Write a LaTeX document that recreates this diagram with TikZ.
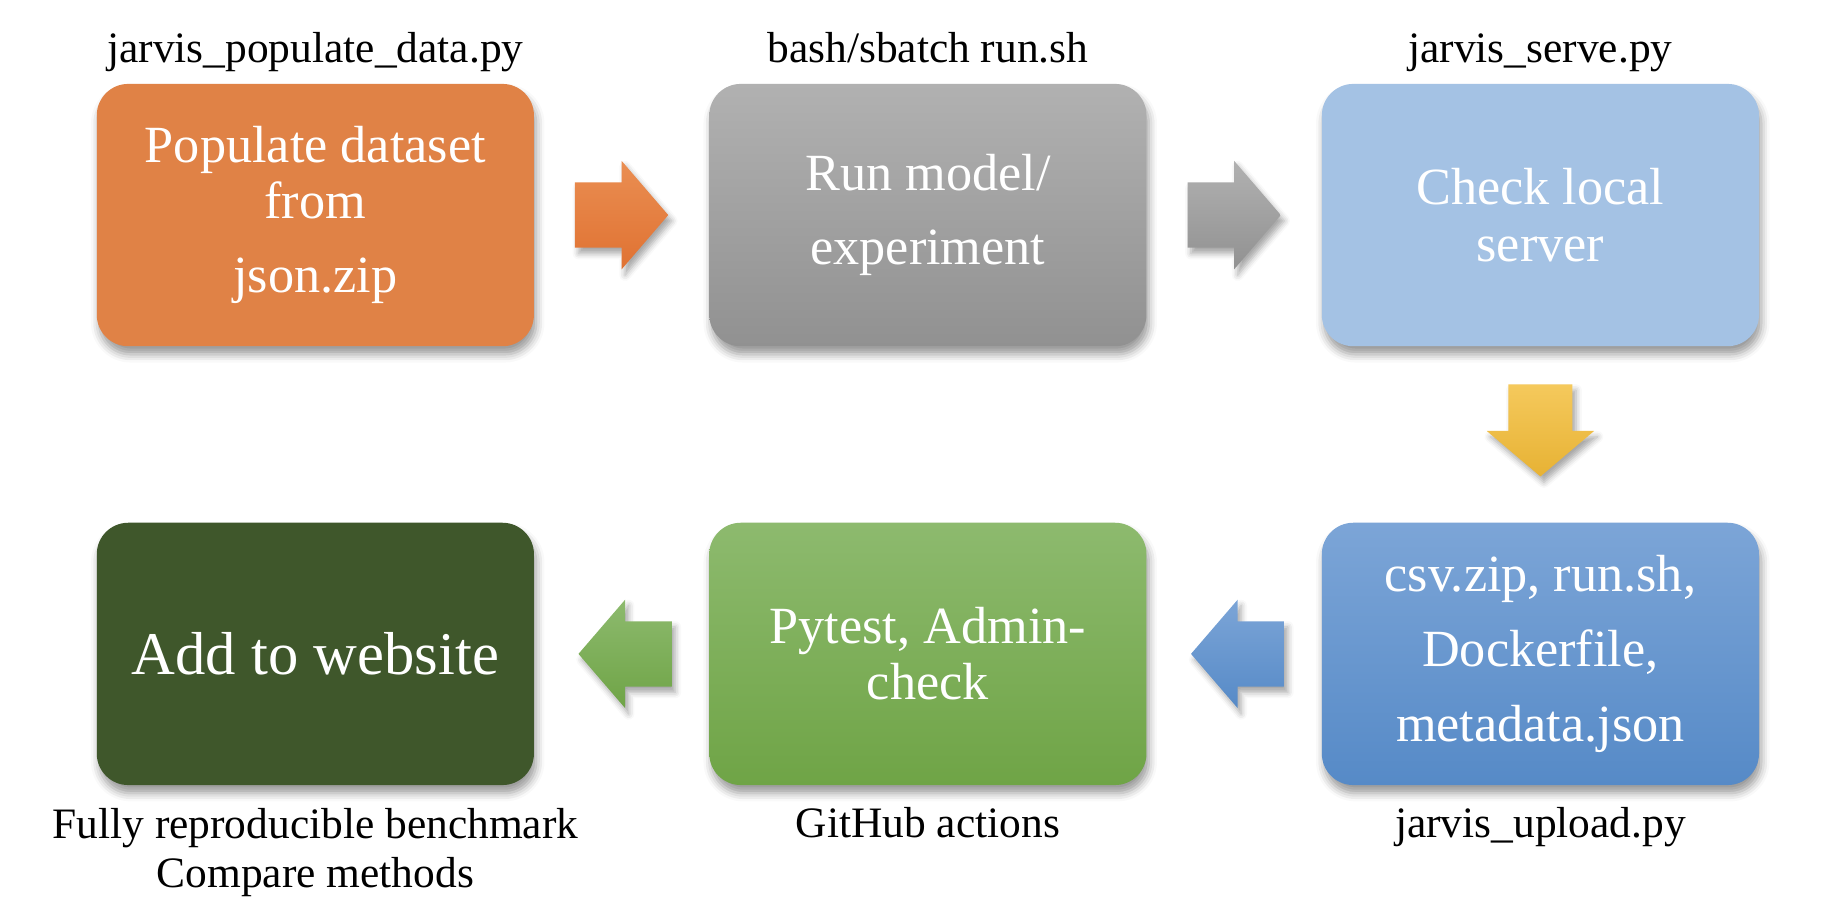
\documentclass[tikz,border=0pt]{standalone}
\usepackage{fontspec}
\setmainfont{Liberation Serif}
\usetikzlibrary{positioning,calc,shadows.blur}

\definecolor{orangebox}{RGB}{224,130,70}
\definecolor{orangetop}{RGB}{234,142,82}
\definecolor{orangebot}{RGB}{224,114,50}
\definecolor{graytop}{RGB}{177,177,177}
\definecolor{graybot}{RGB}{145,145,145}
\definecolor{lightblue}{RGB}{164,194,228}
\definecolor{yellowtop}{RGB}{245,201,92}
\definecolor{yellowbot}{RGB}{231,178,52}
\definecolor{bluetop}{RGB}{124,165,215}
\definecolor{bluebot}{RGB}{86,138,199}
\definecolor{greentop}{RGB}{141,186,110}
\definecolor{greenbot}{RGB}{111,164,70}
\definecolor{darkgreen}{RGB}{63,87,43}

\begin{document}
\begin{tikzpicture}[line cap=round, line join=round, x=1cm, y=1cm,
        stage/.style={rounded corners=0.27cm, minimum width=3.75cm, minimum height=2.25cm,
            align=center, text=white, inner sep=2pt, font=\fontsize{12.75}{13.7}\selectfont,
            blur shadow={shadow xshift=0.02cm, shadow yshift=-0.07cm, shadow blur radius=0.07cm, shadow opacity=40}},
        caption/.style={inner sep=0pt, align=center, font=\fontsize{10.6}{11.9}\selectfont},
        blockarrow/.style={blur shadow={shadow xshift=0.03cm, shadow yshift=-0.05cm, shadow blur radius=0.05cm, shadow opacity=35}}]

        \useasboundingbox (0,0) rectangle (15.68,7.86);

        % top row
        \node[stage, fill=orangebox] (populate) at (2.705,6.015) {Populate dataset\\from\\[4.5pt]json.zip};
        \node[stage, top color=graytop, bottom color=graybot, right=1.49cm of populate] (run) {Run model/\\[4.5pt]experiment};
        \node[stage, fill=lightblue, right=1.49cm of run] (serve) {Check local\\server};

        % bottom row
        \node[stage, top color=bluetop, bottom color=bluebot, below=1.5cm of serve] (upload) {csv.zip, run.sh,\\[4.5pt]Dockerfile,\\[4.5pt]metadata.json};
        \node[stage, top color=greentop, bottom color=greenbot, left=1.49cm of upload] (check) {Pytest, Admin-\\check};
        \node[stage, fill=darkgreen, left=1.49cm of check, font=\fontsize{14.8}{16}\selectfont] (website) {Add to website};

        % captions
        \node[caption, above=0.18cm of populate, anchor=base] (populatecap) {jarvis\_populate\_data.py};
        \node[caption, above=0.18cm of run, anchor=base] (runcap) {bash/sbatch run.sh};
        \node[caption, above=0.18cm of serve, anchor=base] (servecap) {jarvis\_serve.py};
        \node[caption, below=0.44cm of upload, anchor=base] (uploadcap) {jarvis\_upload.py};
        \node[caption, below=0.44cm of check, anchor=base] (checkcap) {GitHub actions};
        \node[caption, below=0.185cm of website] (websitecap) {Fully reproducible benchmark\\Compare methods};

        % block arrows
        \coordinate (a1) at ($(populate.east)!0.5!(run.west)$);
        \coordinate (a2) at ($(run.east)!0.5!(serve.west)$);
        \coordinate (a3) at ($(serve.south)!0.5!(upload.north)$);
        \coordinate (a4) at ($(upload.west)!0.5!(check.east)$);
        \coordinate (a5) at ($(check.west)!0.5!(website.east)$);

        \shade[blockarrow, top color=orangetop, bottom color=orangebot] (a1) ++(-0.4,-0.28) -- ++(0.4,0) -- ++(0,-0.185) -- ++(0.4,0.465) -- ++(-0.4,0.465) -- ++(0,-0.185) -- ++(-0.4,0) -- cycle;
        \shade[blockarrow, top color=graytop, bottom color=graybot] (a2) ++(-0.4,-0.28) -- ++(0.4,0) -- ++(0,-0.185) -- ++(0.4,0.465) -- ++(-0.4,0.465) -- ++(0,-0.185) -- ++(-0.4,0) -- cycle;
        \shade[blockarrow, top color=yellowtop, bottom color=yellowbot] (a3) ++(-0.275,0.43) -- ++(0.55,0) -- ++(0,-0.40) -- ++(0.185,0) -- ++(-0.46,-0.39) -- ++(-0.46,0.39) -- ++(0.185,0) -- cycle;
        \shade[blockarrow, top color=bluetop, bottom color=bluebot] (a4) ++(0.43,-0.28) -- ++(-0.4,0) -- ++(0,-0.185) -- ++(-0.4,0.465) -- ++(0.4,0.465) -- ++(0,-0.185) -- ++(0.4,0) -- cycle;
        \shade[blockarrow, top color=greentop, bottom color=greenbot] (a5) ++(0.43,-0.28) -- ++(-0.4,0) -- ++(0,-0.185) -- ++(-0.4,0.465) -- ++(0.4,0.465) -- ++(0,-0.185) -- ++(0.4,0) -- cycle;

\end{tikzpicture}
\end{document}
